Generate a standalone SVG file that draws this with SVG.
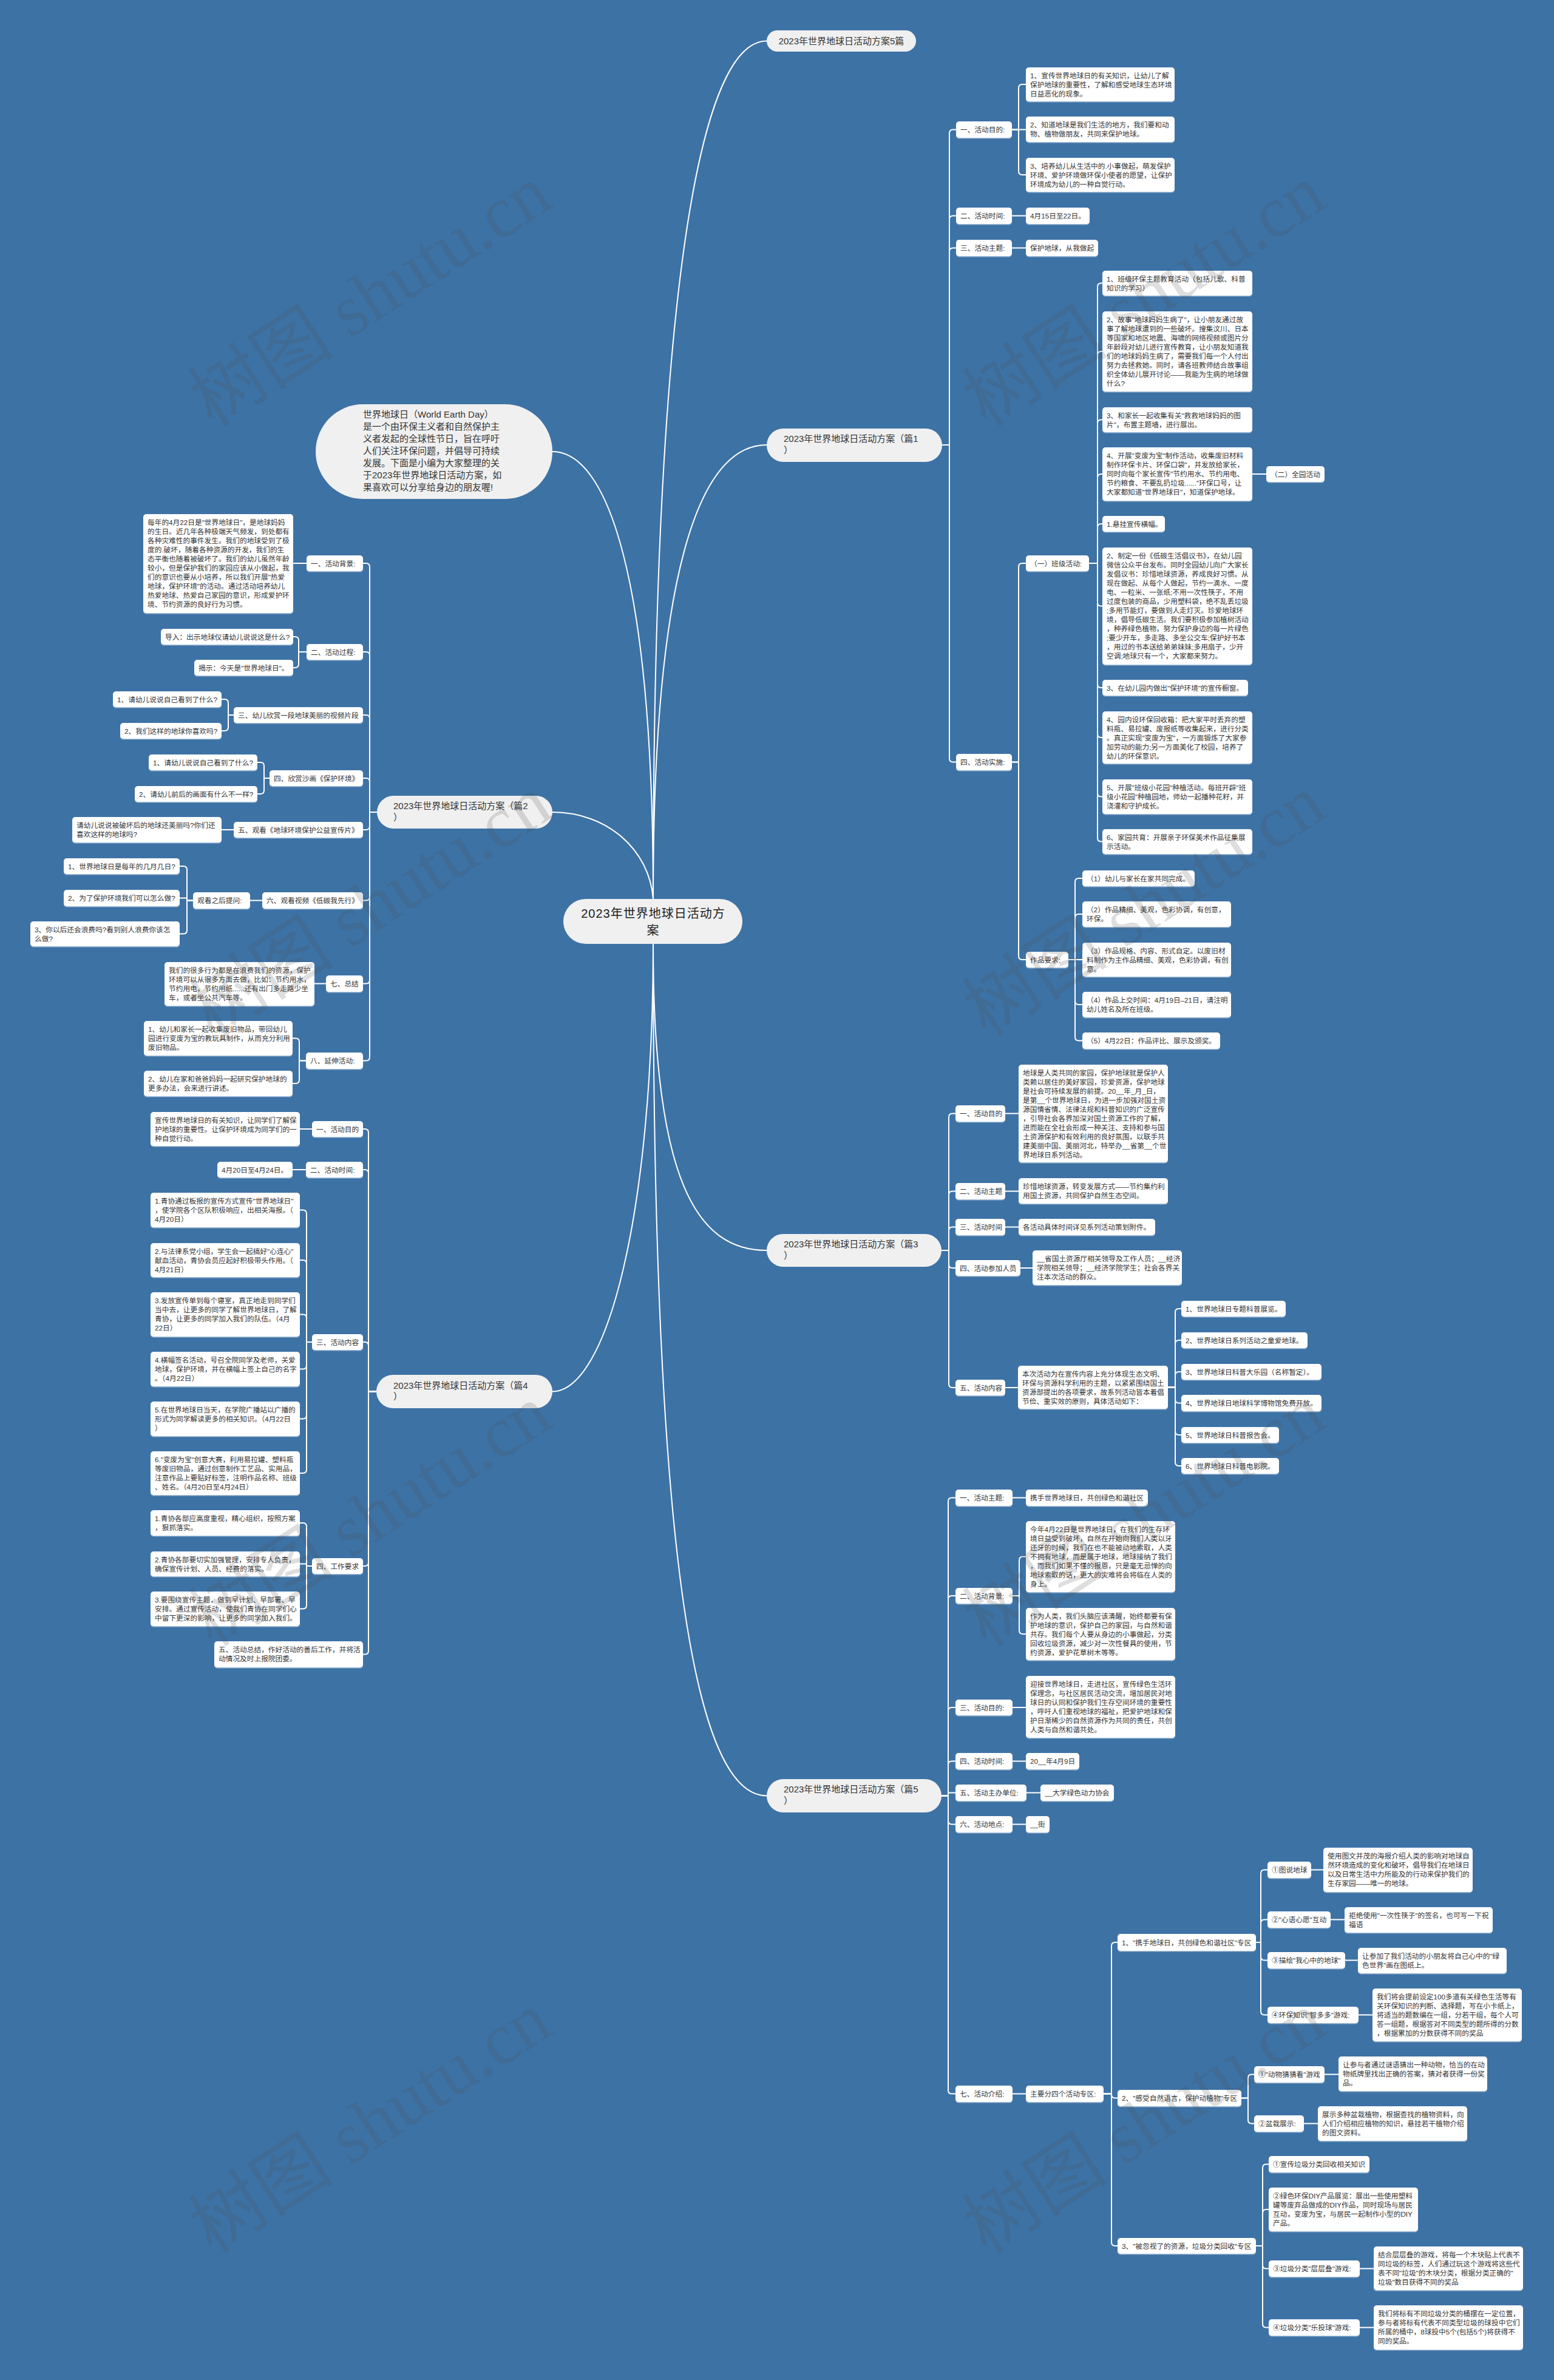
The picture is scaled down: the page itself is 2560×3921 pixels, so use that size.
<svg xmlns="http://www.w3.org/2000/svg" width="2560" height="3921" viewBox="0 0 2560 3921">
<defs>
<filter id="sh" x="-5%" y="-10%" width="110%" height="130%"><feDropShadow dx="0" dy="1.5" stdDeviation="0.6" flood-color="#9db8d3" flood-opacity="1"/></filter>
</defs>
<style>
.c{fill:none;stroke:#fff;stroke-width:2}
.b{fill:#fff;filter:url(#sh)}
.p{fill:#f0f0f0}
.t{font-family:"Liberation Sans","Noto Sans CJK SC",sans-serif;font-size:11.7px;fill:#333}
.tp{font-family:"Liberation Sans","Noto Sans CJK SC",sans-serif;font-size:15px;fill:#333}
.tr{font-family:"Liberation Sans","Noto Sans CJK SC",sans-serif;font-size:20px;fill:#222;letter-spacing:1px}
.wm{font-family:"Liberation Serif","Noto Sans CJK SC",serif;font-size:120px;fill:#4d4d4d;opacity:0.18}
</style>
<rect x="0" y="0" width="2560" height="3921" fill="#3d72a5"/>

<g id="connectors">
<path class="c" d="M1076,1481 C1076,500 1150,67.5 1263,67.5"/>
<path class="c" d="M1076,1481 C1076,950 1150,733 1263,733"/>
<path class="c" d="M1076,1481 C1076,950 1000,744 910,744"/>
<path class="c" d="M1076,1481 C1070,1400 1000,1338 910,1338"/>
<path class="c" d="M1076,1555 C1076,1950 1150,2060 1263,2060"/>
<path class="c" d="M1076,1555 C1076,2000 1000,2292.5 910,2292.5"/>
<path class="c" d="M1076,1555 C1076,2600 1150,2958.5 1263,2958.5"/>
<!-- plan 1 -->
<path class="c" d="M1552,733 H1564 V219.5 Q1564,213.5 1570,213.5 H1575"/>
<path class="c" d="M1552,733 H1564 V361.5 Q1564,355.5 1570,355.5 H1575"/>
<path class="c" d="M1552,733 H1564 V414.5 Q1564,408.5 1570,408.5 H1575"/>
<path class="c" d="M1552,733 H1564 V1249.5 Q1564,1255.5 1570,1255.5 H1575"/>
<path class="c" d="M1667,213.5 H1678 V145 Q1678,139 1684,139 H1690"/>
<path class="c" d="M1667,213.5 H1690"/>
<path class="c" d="M1667,213.5 H1678 V282 Q1678,288 1684,288 H1690"/>
<path class="c" d="M1667,355.5 H1690"/>
<path class="c" d="M1667,408.5 H1690"/>
<path class="c" d="M1667,1255.5 H1678 V934 Q1678,928 1684,928 H1690"/>
<path class="c" d="M1667,1255.5 H1678 V1575 Q1678,1581 1684,1581 H1690"/>
<path class="c" d="M1794,928 H1808 V472.5 Q1808,466.5 1814,466.5 H1816"/>
<path class="c" d="M1794,928 H1808 V585 Q1808,579 1814,579 H1816"/>
<path class="c" d="M1794,928 H1808 V697.5 Q1808,691.5 1814,691.5 H1816"/>
<path class="c" d="M1794,928 H1808 V787 Q1808,781 1814,781 H1816"/>
<path class="c" d="M1794,928 H1808 V869 Q1808,863 1814,863 H1816"/>
<path class="c" d="M1794,928 H1808 V992.5 Q1808,998.5 1814,998.5 H1816"/>
<path class="c" d="M1794,928 H1808 V1127 Q1808,1133 1814,1133 H1816"/>
<path class="c" d="M1794,928 H1808 V1209 Q1808,1215 1814,1215 H1816"/>
<path class="c" d="M1794,928 H1808 V1306.5 Q1808,1312.5 1814,1312.5 H1816"/>
<path class="c" d="M1794,928 H1808 V1380.5 Q1808,1386.5 1814,1386.5 H1816"/>
<path class="c" d="M2063,781 H2086"/>
<path class="c" d="M1760,1581 H1771 V1453 Q1771,1447 1777,1447 H1783"/>
<path class="c" d="M1760,1581 H1771 V1512 Q1771,1506 1777,1506 H1783"/>
<path class="c" d="M1760,1581 H1783"/>
<path class="c" d="M1760,1581 H1771 V1649 Q1771,1655 1777,1655 H1783"/>
<path class="c" d="M1760,1581 H1771 V1708.5 Q1771,1714.5 1777,1714.5 H1783"/>
<!-- plan 3 -->
<path class="c" d="M1551,2060 H1563 V1840.5 Q1563,1834.5 1569,1834.5 H1574"/>
<path class="c" d="M1551,2060 H1563 V1968.5 Q1563,1962.5 1569,1962.5 H1574"/>
<path class="c" d="M1551,2060 H1563 V2027.5 Q1563,2021.5 1569,2021.5 H1574"/>
<path class="c" d="M1551,2060 H1563 V2083 Q1563,2089 1569,2089 H1574"/>
<path class="c" d="M1551,2060 H1563 V2280 Q1563,2286 1569,2286 H1574"/>
<path class="c" d="M1656,1834.5 H1678"/>
<path class="c" d="M1656,1962.5 H1678"/>
<path class="c" d="M1656,2021.5 H1678"/>
<path class="c" d="M1681,2089 H1701"/>
<path class="c" d="M1656,2286 H1677"/>
<path class="c" d="M1924,2285.5 H1936 V2162 Q1936,2156 1942,2156 H1946"/>
<path class="c" d="M1924,2285.5 H1936 V2214 Q1936,2208 1942,2208 H1946"/>
<path class="c" d="M1924,2285.5 H1936 V2266 Q1936,2260 1942,2260 H1946"/>
<path class="c" d="M1924,2285.5 H1936 V2305.5 Q1936,2311.5 1942,2311.5 H1946"/>
<path class="c" d="M1924,2285.5 H1936 V2358 Q1936,2364 1942,2364 H1946"/>
<path class="c" d="M1924,2285.5 H1936 V2409 Q1936,2415 1942,2415 H1946"/>
<!-- plan 5 -->
<path class="c" d="M1551,2958.5 H1562 V2473.5 Q1562,2467.5 1568,2467.5 H1574"/>
<path class="c" d="M1551,2958.5 H1562 V2635 Q1562,2629 1568,2629 H1574"/>
<path class="c" d="M1551,2958.5 H1562 V2819 Q1562,2813 1568,2813 H1574"/>
<path class="c" d="M1551,2958.5 H1562 V2907.5 Q1562,2901.5 1568,2901.5 H1574"/>
<path class="c" d="M1551,2958.5 H1562 V2953.5 H1574"/>
<path class="c" d="M1551,2958.5 H1562 V2999.5 Q1562,3005.5 1568,3005.5 H1574"/>
<path class="c" d="M1551,2958.5 H1562 V3443.5 Q1562,3449.5 1568,3449.5 H1574"/>
<path class="c" d="M1668,2467.5 H1690"/>
<path class="c" d="M1668,2629 H1679 V2570.5 Q1679,2564.5 1685,2564.5 H1690"/>
<path class="c" d="M1668,2629 H1679 V2686 Q1679,2692 1685,2692 H1690"/>
<path class="c" d="M1668,2813 H1690"/>
<path class="c" d="M1668,2901.5 H1690"/>
<path class="c" d="M1691,2953.5 H1714"/>
<path class="c" d="M1668,3005.5 H1690"/>
<path class="c" d="M1668,3449.5 H1690"/>
<path class="c" d="M1818,3449.5 H1831 V3206 Q1831,3200 1837,3200 H1841"/>
<path class="c" d="M1818,3449.5 H1831 V3450.5 Q1831,3456.5 1837,3456.5 H1841"/>
<path class="c" d="M1818,3449.5 H1831 V3694 Q1831,3700 1837,3700 H1841"/>
<path class="c" d="M2069,3200 H2077 V3086.5 Q2077,3080.5 2083,3080.5 H2088"/>
<path class="c" d="M2069,3200 H2077 V3168.5 Q2077,3162.5 2083,3162.5 H2088"/>
<path class="c" d="M2069,3200 H2077 V3223.5 Q2077,3229.5 2083,3229.5 H2088"/>
<path class="c" d="M2069,3200 H2077 V3313.5 Q2077,3319.5 2083,3319.5 H2088"/>
<path class="c" d="M2160,3080.5 H2180"/>
<path class="c" d="M2192,3162.5 H2215"/>
<path class="c" d="M2216,3229.5 H2237"/>
<path class="c" d="M2238,3319.5 H2261"/>
<path class="c" d="M2045,3456.5 H2056 V3423.5 Q2056,3417.5 2062,3417.5 H2066"/>
<path class="c" d="M2045,3456.5 H2056 V3492.5 Q2056,3498.5 2062,3498.5 H2066"/>
<path class="c" d="M2182,3417.5 H2205"/>
<path class="c" d="M2148,3498.5 H2171"/>
<path class="c" d="M2069,3700 H2080 V3571.5 Q2080,3565.5 2086,3565.5 H2090"/>
<path class="c" d="M2069,3700 H2080 V3646 Q2080,3640 2086,3640 H2090"/>
<path class="c" d="M2069,3700 H2080 V3731.5 Q2080,3737.5 2086,3737.5 H2090"/>
<path class="c" d="M2069,3700 H2080 V3828.5 Q2080,3834.5 2086,3834.5 H2090"/>
<path class="c" d="M2240,3737.5 H2263"/>
<path class="c" d="M2240,3834.5 H2263"/>
<!-- plan 2 -->
<path class="c" d="M621,1338 H609 V934 Q609,928 603,928 H598"/>
<path class="c" d="M621,1338 H609 V1080 Q609,1074 603,1074 H598"/>
<path class="c" d="M621,1338 H609 V1184 Q609,1178 603,1178 H598"/>
<path class="c" d="M621,1338 H609 V1288 Q609,1282 603,1282 H598"/>
<path class="c" d="M621,1338 H609 V1361 Q609,1367 603,1367 H598"/>
<path class="c" d="M621,1338 H609 V1477.5 Q609,1483.5 603,1483.5 H598"/>
<path class="c" d="M621,1338 H609 V1614.5 Q609,1620.5 603,1620.5 H598"/>
<path class="c" d="M621,1338 H609 V1741.5 Q609,1747.5 603,1747.5 H598"/>
<path class="c" d="M505,928 H483"/>
<path class="c" d="M505,1074 H492 V1055 Q492,1049 486,1049 H483"/>
<path class="c" d="M505,1074 H492 V1094 Q492,1100 486,1100 H483"/>
<path class="c" d="M385,1178 H376 V1158 Q376,1152 370,1152 H365"/>
<path class="c" d="M385,1178 H376 V1198 Q376,1204 370,1204 H365"/>
<path class="c" d="M444,1282 H435 V1262 Q435,1256 429,1256 H424"/>
<path class="c" d="M444,1282 H435 V1302 Q435,1308 429,1308 H424"/>
<path class="c" d="M385,1367 H365"/>
<path class="c" d="M432,1483.5 H412"/>
<path class="c" d="M318,1483.5 H308 V1433 Q308,1427 302,1427 H296"/>
<path class="c" d="M318,1483.5 H308 V1479.5 H296"/>
<path class="c" d="M318,1483.5 H308 V1532.5 Q308,1538.5 302,1538.5 H296"/>
<path class="c" d="M537,1620.5 H518"/>
<path class="c" d="M504,1747.5 H493 V1716.5 Q493,1710.5 487,1710.5 H482"/>
<path class="c" d="M504,1747.5 H493 V1779 Q493,1785 487,1785 H482"/>
<!-- plan 4 -->
<path class="c" d="M620,2292.5 H607 V1866 Q607,1860 601,1860 H598"/>
<path class="c" d="M620,2292.5 H607 V1933 Q607,1927 601,1927 H598"/>
<path class="c" d="M620,2292.5 H607 V2217 Q607,2211 601,2211 H598"/>
<path class="c" d="M620,2292.5 H607 V2574 Q607,2580 601,2580 H598"/>
<path class="c" d="M620,2292.5 H607 V2719.5 Q607,2725.5 601,2725.5 H598"/>
<path class="c" d="M514,1860 H494"/>
<path class="c" d="M504,1927 H482"/>
<path class="c" d="M514,2211 H505 V1999.5 Q505,1993.5 499,1993.5 H494"/>
<path class="c" d="M514,2211 H505 V2082 Q505,2076 499,2076 H494"/>
<path class="c" d="M514,2211 H505 V2171.5 Q505,2165.5 499,2165.5 H494"/>
<path class="c" d="M514,2211 H505 V2249.5 Q505,2255.5 499,2255.5 H494"/>
<path class="c" d="M514,2211 H505 V2331.5 Q505,2337.5 499,2337.5 H494"/>
<path class="c" d="M514,2211 H505 V2421 Q505,2427 499,2427 H494"/>
<path class="c" d="M514,2580 H505 V2515 Q505,2509 499,2509 H494"/>
<path class="c" d="M514,2580 H505 V2576.5 H494"/>
<path class="c" d="M514,2580 H505 V2644.5 Q505,2650.5 499,2650.5 H494"/>
</g>

<!-- root and level 1 -->
<g id="n-root"><rect class="p" x="928" y="1481" width="295" height="74" rx="37"/><text class="tr" x="1076" y="1512" text-anchor="middle">2023年世界地球日活动方</text><text class="tr" x="1076" y="1540" text-anchor="middle">案</text></g>
<g id="n-intro"><rect class="p" x="520" y="666" width="390" height="156" rx="78"/><text class="tp"><tspan x="598" y="688">世界地球日（World Earth Day）</tspan><tspan x="598" y="708">是一个由环保主义者和自然保护主</tspan><tspan x="598" y="728">义者发起的全球性节日，旨在呼吁</tspan><tspan x="598" y="748">人们关注环保问题，并倡导可持续</tspan><tspan x="598" y="768">发展。下面是小编为大家整理的关</tspan><tspan x="598" y="788">于2023年世界地球日活动方案，如</tspan><tspan x="598" y="808">果喜欢可以分享给身边的朋友喔!</tspan></text></g>
<g id="n-p0"><rect class="p" x="1263" y="50" width="246" height="35" rx="17.5"/><text class="tp" x="1386" y="73" text-anchor="middle">2023年世界地球日活动方案5篇</text></g>
<g id="n-p1"><rect class="p" x="1263" y="706" width="289" height="55" rx="27.5"/><text class="tp"><tspan x="1291" y="728">2023年世界地球日活动方案（篇1</tspan><tspan x="1291" y="747">）</tspan></text></g>
<g id="n-p2"><rect class="p" x="621" y="1311" width="289" height="54" rx="27"/><text class="tp"><tspan x="648" y="1333">2023年世界地球日活动方案（篇2</tspan><tspan x="648" y="1352">）</tspan></text></g>
<g id="n-p3"><rect class="p" x="1263" y="2033" width="288" height="54" rx="27"/><text class="tp"><tspan x="1291" y="2055">2023年世界地球日活动方案（篇3</tspan><tspan x="1291" y="2074">）</tspan></text></g>
<g id="n-p4"><rect class="p" x="620" y="2265" width="290" height="55" rx="27.5"/><text class="tp"><tspan x="648" y="2288">2023年世界地球日活动方案（篇4</tspan><tspan x="648" y="2306">）</tspan></text></g>
<g id="n-p5"><rect class="p" x="1263" y="2931" width="288" height="55" rx="27.5"/><text class="tp"><tspan x="1291" y="2953">2023年世界地球日活动方案（篇5</tspan><tspan x="1291" y="2972">）</tspan></text></g>

<!-- plan 1 -->
<g id="n-a1"><rect class="b" x="1575" y="200" width="92" height="27" rx="5"/><text class="t" x="1582" y="218">一、活动目的:</text></g>
<g id="n-a2"><rect class="b" x="1575" y="342" width="92" height="27" rx="5"/><text class="t" x="1582" y="360">二、活动时间:</text></g>
<g id="n-a3"><rect class="b" x="1575" y="395" width="92" height="27" rx="5"/><text class="t" x="1582" y="413">三、活动主题:</text></g>
<g id="n-a4"><rect class="b" x="1575" y="1242" width="92" height="27" rx="5"/><text class="t" x="1582" y="1260">四、活动实施:</text></g>
<g id="n-a1a"><rect class="b" x="1690" y="111" width="245" height="56" rx="5"/><text class="t"><tspan x="1697" y="129">1、宣传世界地球日的有关知识，让幼儿了解</tspan><tspan x="1697" y="144">保护地球的重要性，了解和感受地球生态环境</tspan><tspan x="1697" y="159">日益恶化的现象。</tspan></text></g>
<g id="n-a1b"><rect class="b" x="1690" y="192" width="245" height="42" rx="5"/><text class="t"><tspan x="1697" y="210">2、知道地球是我们生活的地方，我们要和动</tspan><tspan x="1697" y="225">物、植物做朋友，共同来保护地球。</tspan></text></g>
<g id="n-a1c"><rect class="b" x="1690" y="260" width="245" height="56" rx="5"/><text class="t"><tspan x="1697" y="278">3、培养幼儿从生活中的.小事做起，萌发保护</tspan><tspan x="1697" y="293">环境、爱护环境做环保小使者的愿望，让保护</tspan><tspan x="1697" y="308">环境成为幼儿的一种自觉行动。</tspan></text></g>
<g id="n-a2a"><rect class="b" x="1690" y="342" width="105" height="27" rx="5"/><text class="t" x="1697" y="360">4月15日至22日。</text></g>
<g id="n-a3a"><rect class="b" x="1690" y="395" width="119" height="27" rx="5"/><text class="t" x="1697" y="413">保护地球，从我做起</text></g>
<g id="n-b1"><rect class="b" x="1690" y="915" width="104" height="26" rx="5"/><text class="t" x="1697" y="933">（一）班级活动:</text></g>
<g id="n-b2"><rect class="b" x="1690" y="1568" width="70" height="26" rx="5"/><text class="t" x="1697" y="1586">作品要求:</text></g>
<g id="n-c1"><rect class="b" x="1816" y="446" width="247" height="41" rx="5"/><text class="t"><tspan x="1823" y="464">1、班级环保主题教育活动（包括儿歌、科普</tspan><tspan x="1823" y="479">知识的学习）</tspan></text></g>
<g id="n-c2"><rect class="b" x="1816" y="513" width="247" height="132" rx="5"/><text class="t"><tspan x="1823" y="531">2、故事"地球妈妈生病了"，让小朋友通过故</tspan><tspan x="1823" y="546">事了解地球遭到的一些破坏。搜集汶川、日本</tspan><tspan x="1823" y="561">等国家和地区地震、海啸的网络视频或图片分</tspan><tspan x="1823" y="576">年龄段对幼儿进行宣传教育，让小朋友知道我</tspan><tspan x="1823" y="591">们的地球妈妈生病了，需要我们每一个人付出</tspan><tspan x="1823" y="606">努力去拯救她。同时，请各班教师结合故事组</tspan><tspan x="1823" y="621">织全体幼儿展开讨论——我能为生病的地球做</tspan><tspan x="1823" y="636">什么?</tspan></text></g>
<g id="n-c3"><rect class="b" x="1816" y="671" width="247" height="41" rx="5"/><text class="t"><tspan x="1823" y="689">3、和家长一起收集有关"救救地球妈妈的图</tspan><tspan x="1823" y="704">片"，布置主题墙，进行展出。</tspan></text></g>
<g id="n-c4"><rect class="b" x="1816" y="737" width="247" height="88" rx="5"/><text class="t"><tspan x="1823" y="755">4、开展"变废为宝"制作活动，收集废旧材料</tspan><tspan x="1823" y="770">制作环保卡片、环保口袋"，并发放给家长，</tspan><tspan x="1823" y="785">同时向每个家长宣传"节约用水、节约用电、</tspan><tspan x="1823" y="800">节约粮食、不要乱扔垃圾......"环保口号，让</tspan><tspan x="1823" y="815">大家都知道"世界地球日"，知道保护地球。</tspan></text></g>
<g id="n-qy"><rect class="b" x="2086" y="768" width="96" height="26" rx="5"/><text class="t" x="2093" y="786">（二）全园活动</text></g>
<g id="n-c5"><rect class="b" x="1816" y="850" width="103" height="26" rx="5"/><text class="t" x="1823" y="868">1.悬挂宣传横幅。</text></g>
<g id="n-c6"><rect class="b" x="1816" y="902" width="247" height="193" rx="5"/><text class="t"><tspan x="1823" y="920">2、制定一份《低碳生活倡议书》，在幼儿园</tspan><tspan x="1823" y="935">微信公众平台发布。同时全园幼儿向广大家长</tspan><tspan x="1823" y="950">发倡议书：珍惜地球资源，养成良好习惯。从</tspan><tspan x="1823" y="965">现在做起、从每个人做起，节约一滴水、一度</tspan><tspan x="1823" y="980">电、一粒米、一张纸;不用一次性筷子，不用</tspan><tspan x="1823" y="995">过度包装的商品，少用塑料袋，绝不乱丢垃圾</tspan><tspan x="1823" y="1010">;多用节能灯，要做到人走灯灭。珍爱地球环</tspan><tspan x="1823" y="1025">境，倡导低碳生活。我们要积极参加植树活动</tspan><tspan x="1823" y="1040">，种养绿色植物，努力保护身边的每一片绿色</tspan><tspan x="1823" y="1055">;要少开车，多走路、多坐公交车;保护好书本</tspan><tspan x="1823" y="1070">，用过的书本送给弟弟妹妹;多用扇子，少开</tspan><tspan x="1823" y="1085">空调;地球只有一个，大家都来努力。</tspan></text></g>
<g id="n-c7"><rect class="b" x="1816" y="1120" width="240" height="26" rx="5"/><text class="t" x="1823" y="1138">3、在幼儿园内做出"保护环境"的宣传橱窗。</text></g>
<g id="n-c8"><rect class="b" x="1816" y="1172" width="247" height="86" rx="5"/><text class="t"><tspan x="1823" y="1190">4、园内设环保回收箱：把大家平时丢弃的塑</tspan><tspan x="1823" y="1205">料瓶、易拉罐、废报纸等收集起来，进行分类</tspan><tspan x="1823" y="1220">。真正实现"变废为宝"，一方面锻炼了大家参</tspan><tspan x="1823" y="1235">加劳动的能力;另一方面美化了校园，培养了</tspan><tspan x="1823" y="1250">幼儿的环保意识。</tspan></text></g>
<g id="n-c9"><rect class="b" x="1816" y="1284" width="247" height="57" rx="5"/><text class="t"><tspan x="1823" y="1302">5、开展"班级小花园"种植活动。每班开辟"班</tspan><tspan x="1823" y="1317">级小花园"种植园地，师幼一起播种花籽，并</tspan><tspan x="1823" y="1332">浇灌和守护成长。</tspan></text></g>
<g id="n-c10"><rect class="b" x="1816" y="1366" width="247" height="41" rx="5"/><text class="t"><tspan x="1823" y="1384">6、家园共育：开展亲子环保美术作品征集展</tspan><tspan x="1823" y="1399">示活动。</tspan></text></g>
<g id="n-d1"><rect class="b" x="1783" y="1434" width="185" height="26" rx="5"/><text class="t" x="1790" y="1452">（1）幼儿与家长在家共同完成。</text></g>
<g id="n-d2"><rect class="b" x="1783" y="1485" width="245" height="42" rx="5"/><text class="t"><tspan x="1790" y="1503">（2）作品精细、美观，色彩协调，有创意，</tspan><tspan x="1790" y="1518">环保。</tspan></text></g>
<g id="n-d3"><rect class="b" x="1783" y="1553" width="245" height="56" rx="5"/><text class="t"><tspan x="1790" y="1571">（3）作品规格、内容、形式自定。以废旧材</tspan><tspan x="1790" y="1586">料制作为主作品精细、美观，色彩协调，有创</tspan><tspan x="1790" y="1601">意。</tspan></text></g>
<g id="n-d4"><rect class="b" x="1783" y="1634" width="245" height="42" rx="5"/><text class="t"><tspan x="1790" y="1652">（4）作品上交时间：4月19日–21日，请注明</tspan><tspan x="1790" y="1667">幼儿姓名及所在班级。</tspan></text></g>
<g id="n-d5"><rect class="b" x="1783" y="1701" width="227" height="27" rx="5"/><text class="t" x="1790" y="1719">（5）4月22日：作品评比、展示及颁奖。</text></g>

<!-- plan 3 -->
<g id="n-i1"><rect class="b" x="1574" y="1821" width="82" height="27" rx="5"/><text class="t" x="1581" y="1839">一、活动目的</text></g>
<g id="n-i1a"><rect class="b" x="1678" y="1754" width="246" height="161" rx="5"/><text class="t"><tspan x="1685" y="1772">地球是人类共同的家园，保护地球就是保护人</tspan><tspan x="1685" y="1787">类赖以居住的美好家园，珍爱资源，保护地球</tspan><tspan x="1685" y="1802">是社会可持续发展的前提。20__年_月_日，</tspan><tspan x="1685" y="1817">是第__个世界地球日，为进一步加强对国土资</tspan><tspan x="1685" y="1832">源国情省情、法律法规和科普知识的广泛宣传</tspan><tspan x="1685" y="1847">，引导社会各界加深对国土资源工作的了解，</tspan><tspan x="1685" y="1862">进而能在全社会形成一种关注、支持和参与国</tspan><tspan x="1685" y="1877">土资源保护和有效利用的良好氛围，以联手共</tspan><tspan x="1685" y="1892">建美丽中国、美丽河北，特举办__省第__个世</tspan><tspan x="1685" y="1907">界地球日系列活动。</tspan></text></g>
<g id="n-i2"><rect class="b" x="1574" y="1949" width="82" height="27" rx="5"/><text class="t" x="1581" y="1967">二、活动主题</text></g>
<g id="n-i2a"><rect class="b" x="1678" y="1941" width="246" height="42" rx="5"/><text class="t"><tspan x="1685" y="1959">珍惜地球资源，转变发展方式——节约集约利</tspan><tspan x="1685" y="1974">用国土资源，共同保护自然生态空间。</tspan></text></g>
<g id="n-i3"><rect class="b" x="1574" y="2008" width="82" height="27" rx="5"/><text class="t" x="1581" y="2026">三、活动时间</text></g>
<g id="n-i3a"><rect class="b" x="1678" y="2008" width="225" height="27" rx="5"/><text class="t" x="1685" y="2026">各活动具体时间详见系列活动策划附件。</text></g>
<g id="n-i4"><rect class="b" x="1574" y="2076" width="107" height="26" rx="5"/><text class="t" x="1581" y="2094">四、活动参加人员</text></g>
<g id="n-i4a"><rect class="b" x="1701" y="2060" width="246" height="57" rx="5"/><text class="t"><tspan x="1708" y="2078">__省国土资源厅相关领导及工作人员；__经济</tspan><tspan x="1708" y="2093">学院相关领导；__经济学院学生；社会各界关</tspan><tspan x="1708" y="2108">注本次活动的群众。</tspan></text></g>
<g id="n-i5"><rect class="b" x="1574" y="2273" width="82" height="26" rx="5"/><text class="t" x="1581" y="2291">五、活动内容</text></g>
<g id="n-j"><rect class="b" x="1677" y="2250" width="247" height="71" rx="5"/><text class="t"><tspan x="1684" y="2268">本次活动为在宣传内容上充分体现生态文明、</tspan><tspan x="1684" y="2283">环保与资源科学利用的主题，以紧紧围绕国土</tspan><tspan x="1684" y="2298">资源部提出的各项要求，故系列活动皆本着倡</tspan><tspan x="1684" y="2313">节俭、重实效的原则，具体活动如下：</tspan></text></g>
<g id="n-k1"><rect class="b" x="1946" y="2143" width="172" height="26" rx="5"/><text class="t" x="1953" y="2161">1、世界地球日专题科普展览。</text></g>
<g id="n-k2"><rect class="b" x="1946" y="2195" width="208" height="26" rx="5"/><text class="t" x="1953" y="2213">2、世界地球日系列活动之童爱地球。</text></g>
<g id="n-k3"><rect class="b" x="1946" y="2247" width="231" height="26" rx="5"/><text class="t" x="1953" y="2265">3、世界地球日科普大乐园（名称暂定）。</text></g>
<g id="n-k4"><rect class="b" x="1946" y="2298" width="231" height="27" rx="5"/><text class="t" x="1953" y="2316">4、世界地球日地球科学博物馆免费开放。</text></g>
<g id="n-k5"><rect class="b" x="1946" y="2351" width="161" height="26" rx="5"/><text class="t" x="1953" y="2369">5、世界地球日科普报告会。</text></g>
<g id="n-k6"><rect class="b" x="1946" y="2402" width="161" height="26" rx="5"/><text class="t" x="1953" y="2420">6、世界地球日科普电影院。</text></g>

<!-- plan 5 -->
<g id="n-l1"><rect class="b" x="1574" y="2454" width="94" height="27" rx="5"/><text class="t" x="1581" y="2472">一、活动主题:</text></g>
<g id="n-l1a"><rect class="b" x="1690" y="2454" width="201" height="27" rx="5"/><text class="t" x="1697" y="2472">携手世界地球日，共创绿色和谐社区</text></g>
<g id="n-l2"><rect class="b" x="1574" y="2616" width="94" height="26" rx="5"/><text class="t" x="1581" y="2634">二、活动背景:</text></g>
<g id="n-m1"><rect class="b" x="1690" y="2506" width="246" height="117" rx="5"/><text class="t"><tspan x="1697" y="2524">今年4月22日是世界地球日，在我们的生存环</tspan><tspan x="1697" y="2539">境日益受到破坏，自然在开始向我们人类以牙</tspan><tspan x="1697" y="2554">还牙的时候，我们在也不能被动地索取，人类</tspan><tspan x="1697" y="2569">不拥有地球，而是属于地球，地球接纳了我们</tspan><tspan x="1697" y="2584">，而我们如果不懂的报恩，只是毫无忌惮的向</tspan><tspan x="1697" y="2599">地球索取的话，更大的灾难将会将临在人类的</tspan><tspan x="1697" y="2614">身上。</tspan></text></g>
<g id="n-m2"><rect class="b" x="1690" y="2649" width="246" height="86" rx="5"/><text class="t"><tspan x="1697" y="2667">作为人类，我们头脑应该清醒，始终都要有保</tspan><tspan x="1697" y="2682">护地球的意识，保护自己的家园，与自然和谐</tspan><tspan x="1697" y="2697">共存。我们每个人要从身边的小事做起，分类</tspan><tspan x="1697" y="2712">回收垃圾资源，减少对一次性餐具的使用，节</tspan><tspan x="1697" y="2727">约资源，爱护花草树木等等。</tspan></text></g>
<g id="n-l3"><rect class="b" x="1574" y="2800" width="94" height="26" rx="5"/><text class="t" x="1581" y="2818">三、活动目的:</text></g>
<g id="n-l3a"><rect class="b" x="1690" y="2761" width="246" height="102" rx="5"/><text class="t"><tspan x="1697" y="2779">迎接世界地球日，走进社区，宣传绿色生活环</tspan><tspan x="1697" y="2794">保理念，与社区居民活动交流，增加居民对地</tspan><tspan x="1697" y="2809">球日的认同和保护我们生存空间环境的重要性</tspan><tspan x="1697" y="2824">，呼吁人们重视地球的福祉，把爱护地球和保</tspan><tspan x="1697" y="2839">护日渐稀少的自然资源作为共同的责任，共创</tspan><tspan x="1697" y="2854">人类与自然和谐共处。</tspan></text></g>
<g id="n-l4"><rect class="b" x="1574" y="2888" width="94" height="27" rx="5"/><text class="t" x="1581" y="2906">四、活动时间:</text></g>
<g id="n-l4a"><rect class="b" x="1690" y="2888" width="88" height="27" rx="5"/><text class="t" x="1697" y="2906">20__年4月9日</text></g>
<g id="n-l5"><rect class="b" x="1574" y="2940" width="117" height="27" rx="5"/><text class="t" x="1581" y="2958">五、活动主办单位:</text></g>
<g id="n-l5a"><rect class="b" x="1714" y="2940" width="121" height="27" rx="5"/><text class="t" x="1721" y="2958">__大学绿色动力协会</text></g>
<g id="n-l6"><rect class="b" x="1574" y="2992" width="94" height="27" rx="5"/><text class="t" x="1581" y="3010">六、活动地点:</text></g>
<g id="n-l6a"><rect class="b" x="1690" y="2992" width="39" height="27" rx="5"/><text class="t" x="1697" y="3010">__街</text></g>
<g id="n-l7"><rect class="b" x="1574" y="3436" width="94" height="27" rx="5"/><text class="t" x="1581" y="3454">七、活动介绍:</text></g>
<g id="n-n"><rect class="b" x="1690" y="3436" width="128" height="27" rx="5"/><text class="t" x="1697" y="3454">主要分四个活动专区:</text></g>
<g id="n-o1"><rect class="b" x="1841" y="3186" width="228" height="28" rx="5"/><text class="t" x="1848" y="3205">1、"携手地球日，共创绿色和谐社区"专区</text></g>
<g id="n-o2"><rect class="b" x="1841" y="3443" width="204" height="27" rx="5"/><text class="t" x="1848" y="3461">2、"感受自然语言，保护动植物"专区</text></g>
<g id="n-o3"><rect class="b" x="1841" y="3687" width="228" height="26" rx="5"/><text class="t" x="1848" y="3705">3、"被忽视了的资源，垃圾分类回收"专区</text></g>
<g id="n-q1"><rect class="b" x="2088" y="3067" width="72" height="27" rx="5"/><text class="t" x="2095" y="3085">①图说地球</text></g>
<g id="n-q1a"><rect class="b" x="2180" y="3044" width="246" height="73" rx="5"/><text class="t"><tspan x="2187" y="3062">使用图文并茂的海报介绍人类的影响对地球自</tspan><tspan x="2187" y="3077">然环境造成的变化和破坏，倡导我们在地球日</tspan><tspan x="2187" y="3092">以及日常生活中力所能及的行动来保护我们的</tspan><tspan x="2187" y="3107">生存家园——唯一的地球。</tspan></text></g>
<g id="n-q2"><rect class="b" x="2088" y="3149" width="104" height="27" rx="5"/><text class="t" x="2095" y="3167">②"心语心愿"互动</text></g>
<g id="n-q2a"><rect class="b" x="2215" y="3142" width="244" height="42" rx="5"/><text class="t"><tspan x="2222" y="3160">拒绝使用"一次性筷子"的签名，也可写一下祝</tspan><tspan x="2222" y="3175">福语</tspan></text></g>
<g id="n-q3"><rect class="b" x="2088" y="3216" width="128" height="27" rx="5"/><text class="t" x="2095" y="3234">③描绘"我心中的地球"</text></g>
<g id="n-q3a"><rect class="b" x="2237" y="3209" width="245" height="42" rx="5"/><text class="t"><tspan x="2244" y="3227">让参加了我们活动的小朋友将自己心中的"绿</tspan><tspan x="2244" y="3242">色世界"画在图纸上。</tspan></text></g>
<g id="n-q4"><rect class="b" x="2088" y="3306" width="150" height="27" rx="5"/><text class="t" x="2095" y="3324">④环保知识"智多多"游戏:</text></g>
<g id="n-q4a"><rect class="b" x="2261" y="3276" width="246" height="87" rx="5"/><text class="t"><tspan x="2268" y="3294">我们将会提前设定100多道有关绿色生活等有</tspan><tspan x="2268" y="3309">关环保知识的判断、选择题，写在小卡纸上，</tspan><tspan x="2268" y="3324">将适当的题数编在一组，分若干组，每个人可</tspan><tspan x="2268" y="3339">答一组题，根据答对不同类型的题所得的分数</tspan><tspan x="2268" y="3354">，根据累加的分数获得不同的奖品</tspan></text></g>
<g id="n-r1"><rect class="b" x="2066" y="3404" width="116" height="27" rx="5"/><text class="t" x="2073" y="3422">①"动物猜猜看"游戏</text></g>
<g id="n-r1a"><rect class="b" x="2205" y="3388" width="245" height="57" rx="5"/><text class="t"><tspan x="2212" y="3406">让参与者通过谜语猜出一种动物，恰当的在动</tspan><tspan x="2212" y="3421">物纸牌里找出正确的答案，猜对者获得一份奖</tspan><tspan x="2212" y="3436">品。</tspan></text></g>
<g id="n-r2"><rect class="b" x="2066" y="3485" width="82" height="27" rx="5"/><text class="t" x="2073" y="3503">②盆栽展示:</text></g>
<g id="n-r2a"><rect class="b" x="2171" y="3470" width="246" height="57" rx="5"/><text class="t"><tspan x="2178" y="3488">展示多种盆栽植物，根据查找的植物资料，向</tspan><tspan x="2178" y="3503">人们介绍相应植物的知识，悬挂若干植物介绍</tspan><tspan x="2178" y="3518">的图文资料。</tspan></text></g>
<g id="n-s1"><rect class="b" x="2090" y="3552" width="166" height="27" rx="5"/><text class="t" x="2097" y="3570">①宣传垃圾分类回收相关知识</text></g>
<g id="n-s2"><rect class="b" x="2090" y="3604" width="246" height="72" rx="5"/><text class="t"><tspan x="2097" y="3622">②绿色环保DIY产品展览：展出一些使用塑料</tspan><tspan x="2097" y="3637">罐等废弃品做成的DIY作品，同时现场与居民</tspan><tspan x="2097" y="3652">互动，变废为宝，与居民一起制作小型的DIY</tspan><tspan x="2097" y="3667">产品。</tspan></text></g>
<g id="n-s3"><rect class="b" x="2090" y="3724" width="150" height="27" rx="5"/><text class="t" x="2097" y="3742">③垃圾分类"层层叠"游戏:</text></g>
<g id="n-s3a"><rect class="b" x="2263" y="3701" width="246" height="72" rx="5"/><text class="t"><tspan x="2270" y="3719">结合层层叠的游戏，将每一个木块贴上代表不</tspan><tspan x="2270" y="3734">同垃圾的标签，人们通过玩这个游戏将这些代</tspan><tspan x="2270" y="3749">表不同"垃圾"的木块分类，根据分类正确的"</tspan><tspan x="2270" y="3764">垃圾"数目获得不同的奖品</tspan></text></g>
<g id="n-s4"><rect class="b" x="2090" y="3821" width="150" height="27" rx="5"/><text class="t" x="2097" y="3839">④垃圾分类"乐投球"游戏:</text></g>
<g id="n-s4a"><rect class="b" x="2263" y="3798" width="246" height="73" rx="5"/><text class="t"><tspan x="2270" y="3816">我们将标有不同垃圾分类的桶摆在一定位置，</tspan><tspan x="2270" y="3831">参与者将标有代表不同类型垃圾的球投中它们</tspan><tspan x="2270" y="3846">所属的桶中，8球投中5个(包括5个)将获得不</tspan><tspan x="2270" y="3861">同的奖品。</tspan></text></g>

<!-- plan 2 -->
<g id="n-e1"><rect class="b" x="505" y="915" width="93" height="26" rx="5"/><text class="t" x="512" y="933">一、活动背景:</text></g>
<g id="n-e1a"><rect class="b" x="236" y="847" width="247" height="163" rx="5"/><text class="t"><tspan x="243" y="865">每年的4月22日是"世界地球日"，是地球妈妈</tspan><tspan x="243" y="880">的生日。近几年各种极端天气频发，到处都有</tspan><tspan x="243" y="895">各种灾难性的事件发生。我们的地球受到了极</tspan><tspan x="243" y="910">度的.破坏，随着各种资源的开发，我们的生</tspan><tspan x="243" y="925">态平衡也随着被破坏了。我们的幼儿虽然年龄</tspan><tspan x="243" y="940">较小，但是保护我们的家园应该从小做起，我</tspan><tspan x="243" y="955">们的意识也要从小培养，所以我们开展"热爱</tspan><tspan x="243" y="970">地球，保护环境"的活动。通过活动培养幼儿</tspan><tspan x="243" y="985">热爱地球、热爱自己家园的意识，形成爱护环</tspan><tspan x="243" y="1000">境、节约资源的良好行为习惯。</tspan></text></g>
<g id="n-e2"><rect class="b" x="505" y="1061" width="93" height="26" rx="5"/><text class="t" x="512" y="1079">二、活动过程:</text></g>
<g id="n-e2a"><rect class="b" x="265" y="1036" width="218" height="26" rx="5"/><text class="t" x="272" y="1054">导入：出示地球仪请幼儿说说这是什么?</text></g>
<g id="n-e2b"><rect class="b" x="320" y="1087" width="163" height="26" rx="5"/><text class="t" x="327" y="1105">揭示：今天是"世界地球日"。</text></g>
<g id="n-e3"><rect class="b" x="385" y="1165" width="213" height="26" rx="5"/><text class="t" x="392" y="1183">三、幼儿欣赏一段地球美丽的视频片段</text></g>
<g id="n-e3a"><rect class="b" x="186" y="1139" width="179" height="26" rx="5"/><text class="t" x="193" y="1157">1、请幼儿说说自己看到了什么?</text></g>
<g id="n-e3b"><rect class="b" x="198" y="1191" width="167" height="26" rx="5"/><text class="t" x="205" y="1209">2、我们这样的地球你喜欢吗?</text></g>
<g id="n-e4"><rect class="b" x="444" y="1269" width="154" height="26" rx="5"/><text class="t" x="451" y="1287">四、欣赏沙画《保护环境》</text></g>
<g id="n-e4a"><rect class="b" x="245" y="1243" width="179" height="26" rx="5"/><text class="t" x="252" y="1261">1、请幼儿说说自己看到了什么?</text></g>
<g id="n-e4b"><rect class="b" x="222" y="1295" width="202" height="26" rx="5"/><text class="t" x="229" y="1313">2、请幼儿前后的画面有什么不一样?</text></g>
<g id="n-e5"><rect class="b" x="385" y="1354" width="213" height="26" rx="5"/><text class="t" x="392" y="1372">五、观看《地球环境保护公益宣传片》</text></g>
<g id="n-e5a"><rect class="b" x="119" y="1346" width="246" height="42" rx="5"/><text class="t"><tspan x="126" y="1364">请幼儿说说被破坏后的地球还美丽吗?你们还</tspan><tspan x="126" y="1379">喜欢这样的地球吗?</tspan></text></g>
<g id="n-e6"><rect class="b" x="432" y="1470" width="166" height="27" rx="5"/><text class="t" x="439" y="1488">六、观看视频《低碳我先行》</text></g>
<g id="n-e6a"><rect class="b" x="318" y="1470" width="94" height="27" rx="5"/><text class="t" x="325" y="1488">观看之后提问:</text></g>
<g id="n-e6a1"><rect class="b" x="105" y="1414" width="191" height="26" rx="5"/><text class="t" x="112" y="1432">1、世界地球日是每年的几月几日?</text></g>
<g id="n-e6a2"><rect class="b" x="105" y="1466" width="191" height="27" rx="5"/><text class="t" x="112" y="1484">2、为了保护环境我们可以怎么做?</text></g>
<g id="n-e6a3"><rect class="b" x="50" y="1518" width="246" height="41" rx="5"/><text class="t"><tspan x="57" y="1536">3、你以后还会浪费吗?看到别人浪费你该怎</tspan><tspan x="57" y="1551">么做?</tspan></text></g>
<g id="n-e7"><rect class="b" x="537" y="1607" width="61" height="27" rx="5"/><text class="t" x="544" y="1625">七、总结</text></g>
<g id="n-e7a"><rect class="b" x="271" y="1585" width="247" height="72" rx="5"/><text class="t"><tspan x="278" y="1603">我们的很多行为都是在浪费我们的资源，保护</tspan><tspan x="278" y="1618">环境可以从很多方面去做，比如：节约用水，</tspan><tspan x="278" y="1633">节约用电，节约用纸......还有出门多走路少坐</tspan><tspan x="278" y="1648">车，或者坐公共汽车等。</tspan></text></g>
<g id="n-e8"><rect class="b" x="504" y="1734" width="94" height="27" rx="5"/><text class="t" x="511" y="1752">八、延伸活动:</text></g>
<g id="n-e8a"><rect class="b" x="237" y="1682" width="245" height="57" rx="5"/><text class="t"><tspan x="244" y="1700">1、幼儿和家长一起收集废旧物品，带回幼儿</tspan><tspan x="244" y="1715">园进行变废为宝的教玩具制作，从而充分利用</tspan><tspan x="244" y="1730">废旧物品。</tspan></text></g>
<g id="n-e8b"><rect class="b" x="237" y="1764" width="245" height="42" rx="5"/><text class="t"><tspan x="244" y="1782">2、幼儿在家和爸爸妈妈一起研究保护地球的</tspan><tspan x="244" y="1797">更多办法，会来进行讲述。</tspan></text></g>

<!-- plan 4 -->
<g id="n-f1"><rect class="b" x="514" y="1847" width="84" height="26" rx="5"/><text class="t" x="521" y="1865">一、活动目的</text></g>
<g id="n-f1a"><rect class="b" x="248" y="1832" width="246" height="56" rx="5"/><text class="t"><tspan x="255" y="1850">宣传世界地球日的有关知识，让同学们了解保</tspan><tspan x="255" y="1865">护地球的重要性。让保护环境成为同学们的一</tspan><tspan x="255" y="1880">种自觉行动。</tspan></text></g>
<g id="n-f2"><rect class="b" x="504" y="1914" width="94" height="26" rx="5"/><text class="t" x="511" y="1932">二、活动时间:</text></g>
<g id="n-f2a"><rect class="b" x="358" y="1914" width="124" height="26" rx="5"/><text class="t" x="365" y="1932">4月20日至4月24日。</text></g>
<g id="n-f3"><rect class="b" x="514" y="2198" width="84" height="26" rx="5"/><text class="t" x="521" y="2216">三、活动内容</text></g>
<g id="n-g1"><rect class="b" x="248" y="1965" width="246" height="57" rx="5"/><text class="t"><tspan x="255" y="1983">1.青协通过板报的宣传方式宣传"世界地球日"</tspan><tspan x="255" y="1998">，使学院各个区队积极响应，出相关海报。（</tspan><tspan x="255" y="2013">4月20日）</tspan></text></g>
<g id="n-g2"><rect class="b" x="248" y="2048" width="246" height="56" rx="5"/><text class="t"><tspan x="255" y="2066">2.与法律系党小组，学生会一起搞好"心连心"</tspan><tspan x="255" y="2081">献血活动，青协会员应起好积极带头作用。（</tspan><tspan x="255" y="2096">4月21日）</tspan></text></g>
<g id="n-g3"><rect class="b" x="248" y="2129" width="246" height="73" rx="5"/><text class="t"><tspan x="255" y="2147">3.发放宣传单到每个寝室，真正地走到同学们</tspan><tspan x="255" y="2162">当中去，让更多的同学了解世界地球日，了解</tspan><tspan x="255" y="2177">青协，让更多的同学加入我们的队伍。（4月</tspan><tspan x="255" y="2192">22日）</tspan></text></g>
<g id="n-g4"><rect class="b" x="248" y="2227" width="246" height="57" rx="5"/><text class="t"><tspan x="255" y="2245">4.横幅签名活动，号召全院同学及老师，关爱</tspan><tspan x="255" y="2260">地球，保护环境，并在横幅上签上自己的名字</tspan><tspan x="255" y="2275">。（4月22日）</tspan></text></g>
<g id="n-g5"><rect class="b" x="248" y="2309" width="246" height="57" rx="5"/><text class="t"><tspan x="255" y="2327">5.在世界地球日当天，在学院广播站以广播的</tspan><tspan x="255" y="2342">形式为同学解读更多的相关知识。（4月22日</tspan><tspan x="255" y="2357">）</tspan></text></g>
<g id="n-g6"><rect class="b" x="248" y="2391" width="246" height="72" rx="5"/><text class="t"><tspan x="255" y="2409">6."变废为宝"创意大赛，利用易拉罐、塑料瓶</tspan><tspan x="255" y="2424">等废旧物品，通过创意制作工艺品、实用品，</tspan><tspan x="255" y="2439">注意作品上要贴好标签，注明作品名称、班级</tspan><tspan x="255" y="2454">、姓名。（4月20日至4月24日）</tspan></text></g>
<g id="n-f4"><rect class="b" x="514" y="2567" width="84" height="26" rx="5"/><text class="t" x="521" y="2585">四、工作要求</text></g>
<g id="n-h1"><rect class="b" x="248" y="2488" width="246" height="42" rx="5"/><text class="t"><tspan x="255" y="2506">1.青协各部应高度重视，精心组织，按照方案</tspan><tspan x="255" y="2521">，狠抓落实。</tspan></text></g>
<g id="n-h2"><rect class="b" x="248" y="2556" width="246" height="41" rx="5"/><text class="t"><tspan x="255" y="2574">2.青协各部要切实加强管理，安排专人负责，</tspan><tspan x="255" y="2589">确保宣传计划、人员、经费的落实。</tspan></text></g>
<g id="n-h3"><rect class="b" x="248" y="2622" width="246" height="57" rx="5"/><text class="t"><tspan x="255" y="2640">3.要围绕宣传主题，做到早计划、早部署、早</tspan><tspan x="255" y="2655">安排。通过宣传活动，使我们青协在同学们心</tspan><tspan x="255" y="2670">中留下更深的影响，让更多的同学加入我们。</tspan></text></g>
<g id="n-f5"><rect class="b" x="353" y="2704" width="245" height="43" rx="5"/><text class="t"><tspan x="360" y="2722">五、活动总结，作好活动的善后工作，并将活</tspan><tspan x="360" y="2737">动情况及时上报院团委。</tspan></text></g>

<g id="watermark">
<text class="wm" transform="translate(350,705) rotate(-33)">树图 shutu.cn</text>
<text class="wm" transform="translate(1625,705) rotate(-33)">树图 shutu.cn</text>
<text class="wm" transform="translate(350,1710) rotate(-33)">树图 shutu.cn</text>
<text class="wm" transform="translate(1625,1710) rotate(-33)">树图 shutu.cn</text>
<text class="wm" transform="translate(350,2715) rotate(-33)">树图 shutu.cn</text>
<text class="wm" transform="translate(1625,2715) rotate(-33)">树图 shutu.cn</text>
<text class="wm" transform="translate(350,3715) rotate(-33)">树图 shutu.cn</text>
<text class="wm" transform="translate(1625,3715) rotate(-33)">树图 shutu.cn</text>
</g>
</svg>
